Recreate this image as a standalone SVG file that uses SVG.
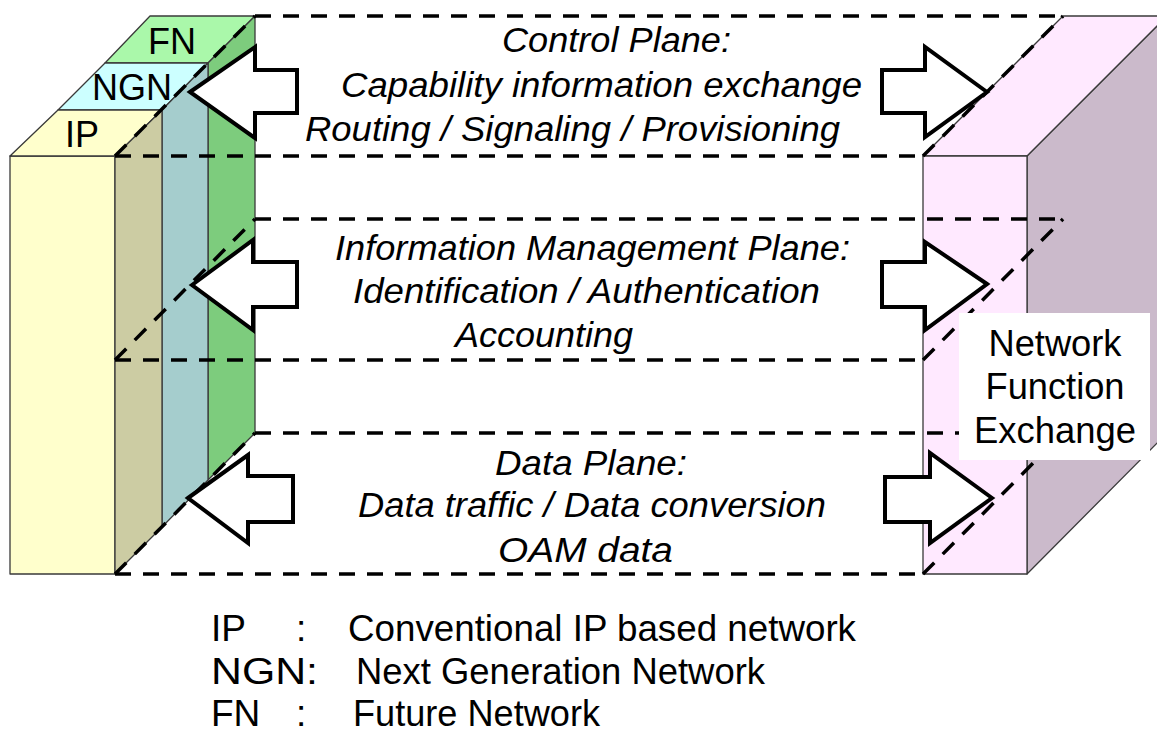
<svg xmlns="http://www.w3.org/2000/svg" width="1157" height="733" viewBox="0 0 1157 733">
  <style>
    .face { stroke: #3a3a3a; stroke-width: 1.3; stroke-linejoin: round; }
    .plane { fill: none; stroke: #000; stroke-width: 3.5; stroke-dasharray: 16 12; }
    .arrow { fill: #fff; stroke: #000; stroke-width: 4; stroke-linejoin: miter; }
    .ptext { font-family: "Liberation Sans", Arial, sans-serif; font-style: italic; font-size: 35.5px; fill: #000; }
    .label { font-family: "Liberation Sans", Arial, sans-serif; font-size: 36px; fill: #000; }
    .legend { font-family: "Liberation Sans", Arial, sans-serif; font-size: 37px; fill: #000; }
  </style>
  <rect width="1157" height="733" fill="#fff"/>

  <!-- Left stack: FN behind NGN behind IP -->
  <g id="node-fn">
    <polygon class="face" points="105,63 208,63 255,16 150,16" fill="#aaf8aa"/>
    <polygon class="face" points="208,63 255,16 255,433 208,480" fill="#7dcc7d"/>
    <text class="label" x="172" y="54" text-anchor="middle">FN</text>
  </g>
  <g id="node-ngn">
    <polygon class="face" points="58,110 162,110 208,63 105,63" fill="#ccffff"/>
    <polygon class="face" points="162,110 208,63 208,480 162,527" fill="#a5cdcd"/>
    <text class="label" x="132" y="100" text-anchor="middle">NGN</text>
  </g>
  <g id="node-ip">
    <rect class="face" x="10" y="156" width="105" height="418" fill="#ffffcc"/>
    <polygon class="face" points="10,156 115,156 162,110 58,110" fill="#ffffcc"/>
    <polygon class="face" points="115,156 162,110 162,527 115,574" fill="#cccca3"/>
    <text class="label" x="82" y="147" text-anchor="middle">IP</text>
  </g>

  <!-- Right block -->
  <g id="node-nfe">
    <polygon class="face" points="1027,156 1167,16 1167,433 1027,574" fill="#cbbacb"/>
    <polygon class="face" points="923,156 1027,156 1167,16 1063,16" fill="#ffe9ff"/>
    <rect class="face" x="923" y="156" width="104" height="418" fill="#ffe9ff"/>
  </g>

  <!-- Dashed planes and block arrows -->
  <g id="connectors">
    <g id="plane-control">
      <path class="plane" d="M255,16 H1063"/>
      <path class="plane" d="M115,156 H923"/>
      <path class="plane" d="M115,156 L255,16"/>
      <path class="plane" d="M923,156 L1063,16"/>
    </g>
    <g id="plane-info">
      <path class="plane" d="M255,219 H1063"/>
      <path class="plane" d="M115,360 H923"/>
      <path class="plane" d="M115,360 L255,219"/>
      <path class="plane" d="M923,360 L1063,219"/>
    </g>
    <g id="plane-data">
      <path class="plane" d="M255,433 H1063"/>
      <path class="plane" d="M115,574 H923"/>
      <path class="plane" d="M115,574 L255,433"/>
      <path class="plane" d="M923,574 L1063,433"/>
    </g>

    <polygon class="arrow" points="190,92 255,47 255,70 297,70 297,113 255,113 255,138"/>
    <polygon class="arrow" points="987,92 925,47 925,70 882,70 882,113 925,113 925,137"/>
    <polygon class="arrow" points="192,285 253,240 253,262 297,262 297,307 253,307 253,330"/>
    <polygon class="arrow" points="987,284 925,242 925,262 882,262 882,307 925,307 925,330"/>
    <polygon class="arrow" points="188,498 248,455 248,476 293,476 293,522 248,522 248,543"/>
    <polygon class="arrow" points="992,498 930,453 930,477 885,477 885,522 930,522 930,543"/>
  </g>

  <!-- Plane captions -->
  <g id="text-control">
    <text class="ptext" x="502" y="52" textLength="229" lengthAdjust="spacingAndGlyphs">Control Plane:</text>
    <text class="ptext" x="341" y="97" textLength="521" lengthAdjust="spacingAndGlyphs">Capability information exchange</text>
    <text class="ptext" x="305" y="141" textLength="535" lengthAdjust="spacingAndGlyphs">Routing / Signaling / Provisioning</text>
  </g>
  <g id="text-info">
    <text class="ptext" x="335" y="260" textLength="515" lengthAdjust="spacingAndGlyphs">Information Management Plane:</text>
    <text class="ptext" x="353" y="303" textLength="467" lengthAdjust="spacingAndGlyphs">Identification / Authentication</text>
    <text class="ptext" x="455" y="347" textLength="178" lengthAdjust="spacingAndGlyphs">Accounting</text>
  </g>
  <g id="text-data">
    <text class="ptext" x="495" y="475" textLength="192" lengthAdjust="spacingAndGlyphs">Data Plane:</text>
    <text class="ptext" x="358" y="517" textLength="468" lengthAdjust="spacingAndGlyphs">Data traffic / Data conversion</text>
    <text class="ptext" x="498" y="562" textLength="175" lengthAdjust="spacingAndGlyphs">OAM data</text>
  </g>

  <!-- Label on the right block -->
  <g id="node-nfe-label">
    <rect x="959" y="313" width="191" height="147" fill="#fff"/>
    <text class="label" x="1055" y="356" font-size="33" text-anchor="middle" textLength="133" lengthAdjust="spacingAndGlyphs">Network</text>
    <text class="label" x="1055" y="399" font-size="33" text-anchor="middle" textLength="139" lengthAdjust="spacingAndGlyphs">Function</text>
    <text class="label" x="1055" y="443" font-size="33" text-anchor="middle" textLength="162" lengthAdjust="spacingAndGlyphs">Exchange</text>
  </g>

  <!-- Legend -->
  <g id="legend">
    <text class="legend" x="211" y="641">IP</text>
    <text class="legend" x="296" y="641">:</text>
    <text class="legend" x="348" y="641" textLength="508" lengthAdjust="spacingAndGlyphs">Conventional IP based network</text>
    <text class="legend" x="211" y="684" textLength="107" lengthAdjust="spacingAndGlyphs">NGN:</text>
    <text class="legend" x="356" y="684" textLength="409" lengthAdjust="spacingAndGlyphs">Next Generation Network</text>
    <text class="legend" x="211" y="726">FN</text>
    <text class="legend" x="296" y="726">:</text>
    <text class="legend" x="353" y="726" textLength="247" lengthAdjust="spacingAndGlyphs">Future Network</text>
  </g>
</svg>
